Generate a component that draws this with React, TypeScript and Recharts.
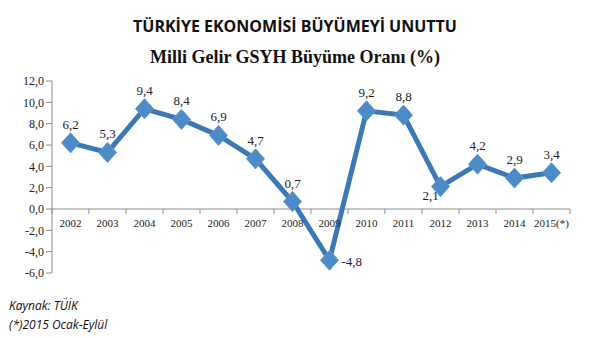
import { LineChart, Line, XAxis, YAxis, ReferenceLine, LabelList } from "recharts";

const years = ["2002", "2003", "2004", "2005", "2006", "2007", "2008", "2009", "2010", "2011", "2012", "2013", "2014", "2015(*)"];
const growth = [6.2, 5.3, 9.4, 8.4, 6.9, 4.7, 0.7, -4.8, 9.2, 8.8, 2.1, 4.2, 2.9, 3.4];
const yTicks = [-6, -4, -2, 0, 2, 4, 6, 8, 10, 12];

const data = years.map((year, i) => ({ year, value: growth[i] }));

const Y_MIN = -6;
const Y_MAX = 12;
const CHART_W = 590;
const CHART_H = 290;
const Y_AXIS_W = 52;
const MARGIN = { top: 81, right: 20, bottom: 16, left: 0 };
const X_AXIS_H = 1;
const PLOT_H = CHART_H - MARGIN.top - MARGIN.bottom - X_AXIS_H;
const PLOT_W = CHART_W - MARGIN.left - MARGIN.right - Y_AXIS_W;
const HALF_BAND = PLOT_W / years.length / 2;
const ZERO_Y = MARGIN.top + (PLOT_H * Y_MAX) / (Y_MAX - Y_MIN);

const LINE = "#3b78b5";
const MARKER = "#4d8bc8";
const AXIS = "#8c8c8c";
const SERIF = "'Liberation Serif', 'DejaVu Serif', serif";

const fmt = (v: number) => v.toFixed(1).replace(".", ",");

function Diamond(props: any) {
  const { cx, cy } = props;
  if (cx == null || cy == null) return null;
  return (
    <polygon
      points={`${cx},${cy - 10} ${cx + 9},${cy} ${cx},${cy + 10} ${cx - 9},${cy}`}
      fill={MARKER}
      stroke="#5a98d2"
      strokeWidth={1}
    />
  );
}

function CatTick(props: any) {
  const { x, payload, index } = props;
  const left = x - HALF_BAND;
  return (
    <g>
      <line x1={left} y1={ZERO_Y} x2={left} y2={ZERO_Y + 5} stroke={AXIS} />
      {index === years.length - 1 && (
        <line x1={x + HALF_BAND} y1={ZERO_Y} x2={x + HALF_BAND} y2={ZERO_Y + 5} stroke={AXIS} />
      )}
      <text x={x} y={ZERO_Y + 18} textAnchor="middle" fontSize={11} fontFamily={SERIF} fill="#222">
        {payload.value}
      </text>
    </g>
  );
}

function ValueLabel(props: any) {
  const { x, y, value, index } = props;
  let lx = x;
  let ly = y - 14;
  let anchor = "middle";
  if (index === 7) {
    lx = x + 12;
    ly = y + 6;
    anchor = "start";
  } else if (index === 10) {
    lx = x - 10;
    ly = y + 13;
  }
  return (
    <text x={lx} y={ly} textAnchor={anchor} fontSize={13} fontFamily={SERIF} fill="#222">
      {fmt(value)}
    </text>
  );
}

export default function App() {
  return (
    <div style={{ position: "absolute", top: 0, left: 0, width: 590, height: 338, background: "#fff" }}>
      <div
        style={{
          position: "absolute",
          top: 15,
          left: 0,
          width: 590,
          textAlign: "center",
          fontFamily: "'Open Sans', Lato, sans-serif",
          fontWeight: 700,
          fontSize: 16,
          color: "#111",
        }}
      >
        TÜRKİYE EKONOMİSİ BÜYÜMEYİ UNUTTU
      </div>
      <div
        style={{
          position: "absolute",
          top: 47,
          left: 0,
          width: 590,
          textAlign: "center",
          fontFamily: SERIF,
          fontWeight: 700,
          fontSize: 18,
          color: "#111",
        }}
      >
        Milli Gelir GSYH Büyüme Oranı (%)
      </div>
      <div style={{ position: "absolute", top: 0, left: 0 }}>
        <LineChart width={CHART_W} height={CHART_H} data={data} margin={MARGIN}>
          <XAxis
            dataKey="year"
            height={X_AXIS_H}
            axisLine={false}
            tickLine={false}
            tick={<CatTick />}
            interval={0}
            padding={{ left: HALF_BAND, right: HALF_BAND }}
          />
          <YAxis
            domain={[Y_MIN, Y_MAX]}
            ticks={yTicks}
            width={Y_AXIS_W}
            axisLine={{ stroke: AXIS }}
            tickLine={{ stroke: AXIS }}
            tickSize={6}
            tick={{ fill: "#222", fontSize: 12, fontFamily: SERIF }}
            tickFormatter={fmt}
            interval={0}
          />
          <ReferenceLine y={0} stroke={AXIS} strokeWidth={1} />
          <Line
            type="linear"
            dataKey="value"
            stroke={LINE}
            strokeWidth={5}
            dot={<Diamond />}
            activeDot={false}
            isAnimationActive={false}
          >
            <LabelList dataKey="value" content={<ValueLabel />} />
          </Line>
        </LineChart>
      </div>
      <div
        style={{
          position: "absolute",
          top: 296,
          left: 9,
          fontFamily: "'Open Sans', Lato, sans-serif",
          fontStyle: "italic",
          fontSize: 12,
          lineHeight: "19px",
          color: "#111",
        }}
      >
        <div>Kaynak: TÜİK</div>
        <div>(*)2015 Ocak-Eylül</div>
      </div>
    </div>
  );
}
